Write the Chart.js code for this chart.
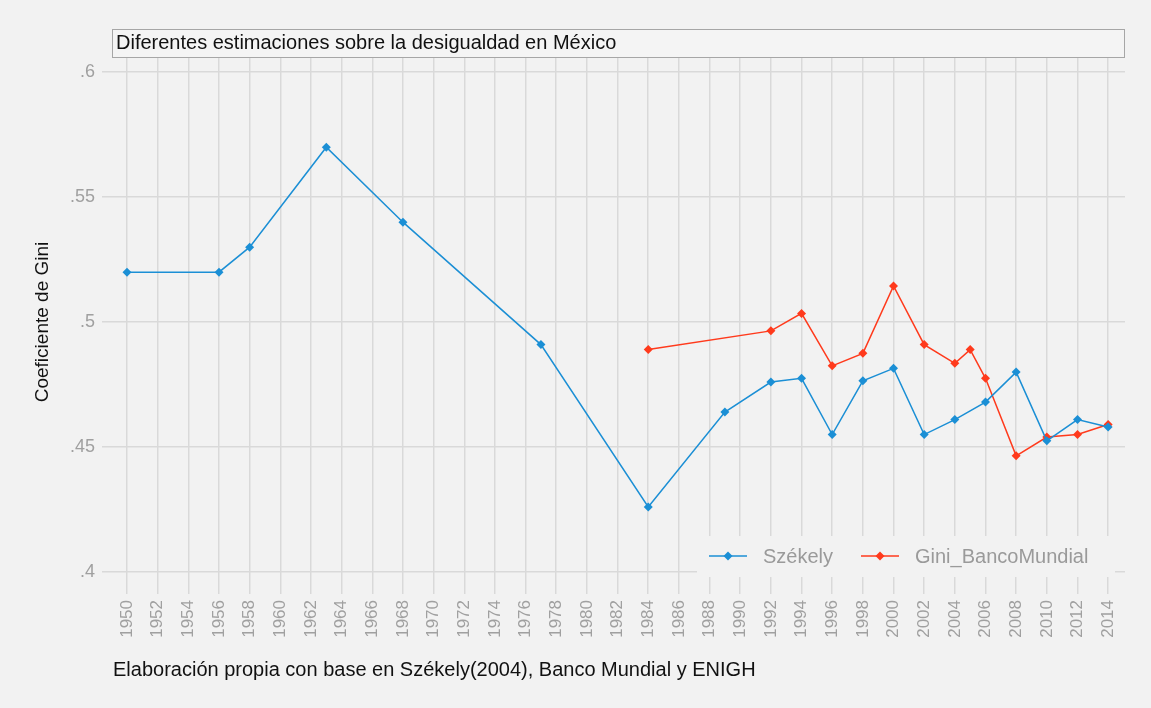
<!DOCTYPE html>
<html>
<head>
<meta charset="utf-8">
<script src="https://cdn.jsdelivr.net/npm/chart.js@4.4.1/dist/chart.umd.min.js"></script>
<style>
  html, body { margin: 0; padding: 0; background: #f2f2f2; }
  canvas { display: block; }
</style>
</head>
<body>
<canvas id="giniChart" width="1151" height="708"></canvas>
<script>
const szekelyYears = [1950, 1956, 1958, 1963, 1968, 1977, 1984, 1989, 1992, 1994, 1996, 1998, 2000, 2002, 2004, 2006, 2008, 2010, 2012, 2014];
const szekelyValues = [0.520, 0.520, 0.530, 0.570, 0.540, 0.491, 0.426, 0.464, 0.476, 0.4775, 0.455, 0.4765, 0.4815, 0.455, 0.461, 0.468, 0.480, 0.4525, 0.461, 0.458];

const bancoYears = [1984, 1992, 1994, 1996, 1998, 2000, 2002, 2004, 2005, 2006, 2008, 2010, 2012, 2014];
const bancoValues = [0.489, 0.4965, 0.5035, 0.4825, 0.4875, 0.5145, 0.491, 0.4835, 0.489, 0.4775, 0.4465, 0.454, 0.455, 0.459];

const yearTicks = [];
for (let y = 1950; y <= 2014; y += 2) yearTicks.push(y);
const giniTicks = [0.4, 0.45, 0.5, 0.55, 0.6];

const seriesNames = ["Székely", "Gini_BancoMundial"];
const blue = "#1b8fd5";
const red = "#ff3a1c";
const font = "'Liberation Sans', Arial, sans-serif";

function toPoints(xs, ys) {
  return xs.map((x, i) => ({ x: x, y: ys[i] }));
}

const decorations = {
  id: "decorations",
  beforeDraw(chart) {
    const ctx = chart.ctx;
    ctx.save();
    ctx.fillStyle = "#f2f2f2";
    ctx.fillRect(0, 0, chart.width, chart.height);
    // title box
    ctx.fillStyle = "#f4f4f4";
    ctx.fillRect(112, 29, 1012, 28);
    ctx.strokeStyle = "#a6a6a6";
    ctx.lineWidth = 1;
    ctx.strokeRect(112.5, 29.5, 1012, 28);
    ctx.fillStyle = "#111";
    ctx.font = "20px " + font;
    ctx.textBaseline = "middle";
    ctx.fillText("Diferentes estimaciones sobre la desigualdad en México", 116, 43);
    // y axis title
    ctx.translate(43, 322);
    ctx.rotate(-Math.PI / 2);
    ctx.textAlign = "center";
    ctx.font = "19px " + font;
    ctx.fillText("Coeficiente de Gini", 0, 0);
    ctx.restore();
  },
  afterDraw(chart) {
    const ctx = chart.ctx;
    ctx.save();
    // legend
    ctx.fillStyle = "#f2f2f2";
    ctx.fillRect(697, 536, 418, 41);
    const items = [
      { name: seriesNames[0], color: blue, x: 709 },
      { name: seriesNames[1], color: red, x: 861 }
    ];
    const ly = 556;
    items.forEach(it => {
      ctx.strokeStyle = it.color;
      ctx.lineWidth = 1.5;
      ctx.beginPath();
      ctx.moveTo(it.x, ly);
      ctx.lineTo(it.x + 38, ly);
      ctx.stroke();
      ctx.fillStyle = it.color;
      ctx.beginPath();
      const cx = it.x + 19, r = 4.5;
      ctx.moveTo(cx, ly - r);
      ctx.lineTo(cx + r, ly);
      ctx.lineTo(cx, ly + r);
      ctx.lineTo(cx - r, ly);
      ctx.closePath();
      ctx.fill();
      ctx.fillStyle = "#9a9a9a";
      ctx.font = "20px " + font;
      ctx.textBaseline = "middle";
      ctx.fillText(it.name, it.x + 54, ly + 1);
    });
    // source note
    ctx.fillStyle = "#111";
    ctx.font = "20px " + font;
    ctx.textBaseline = "middle";
    ctx.fillText("Elaboración propia con base en Székely(2004), Banco Mundial y ENIGH", 113, 670);
    ctx.restore();
  }
};

new Chart(document.getElementById("giniChart"), {
  type: "line",
  data: {
    datasets: [
      {
        label: seriesNames[0],
        data: toPoints(szekelyYears, szekelyValues),
        borderColor: blue,
        backgroundColor: blue,
        borderWidth: 1.5,
        pointStyle: "rectRot",
        pointRadius: 4.5,
        pointBorderWidth: 0,
        clip: false
      },
      {
        label: seriesNames[1],
        data: toPoints(bancoYears, bancoValues),
        borderColor: red,
        backgroundColor: red,
        borderWidth: 1.5,
        pointStyle: "rectRot",
        pointRadius: 4.5,
        pointBorderWidth: 0,
        clip: false
      }
    ]
  },
  options: {
    responsive: false,
    animation: false,
    devicePixelRatio: 1,
    layout: { padding: { top: 58, right: 26, left: 0, bottom: 0 } },
    plugins: {
      legend: { display: false },
      title: { display: false },
      tooltip: { enabled: false }
    },
    scales: {
      x: {
        type: "linear",
        min: 1950,
        max: 2015.1,
        afterBuildTicks: scale => { scale.ticks = yearTicks.map(v => ({ value: v })); },
        afterFit: scale => { scale.height = 136; },
        border: { display: false },
        grid: { color: "#d9d9d9", lineWidth: 1.5, tickLength: 22, drawOnChartArea: true },
        ticks: {
          minRotation: 90,
          maxRotation: 90,
          autoSkip: false,
          padding: 6,
          color: "#a0a0a0",
          font: { family: font, size: 17 },
          callback: v => String(v)
        }
      },
      y: {
        min: 0.4,
        max: 0.6057,
        afterBuildTicks: scale => { scale.ticks = giniTicks.map(v => ({ value: v })); },
        afterFit: scale => { scale.width = 127; },
        border: { display: false },
        grid: { color: "#d9d9d9", lineWidth: 1.5, tickLength: 25 },
        ticks: {
          padding: 7,
          color: "#a0a0a0",
          font: { family: font, size: 18 },
          callback: v => Number(v.toFixed(2)).toString().replace(/^0/, "")
        }
      }
    }
  },
  plugins: [decorations]
});
</script>
</body>
</html>
